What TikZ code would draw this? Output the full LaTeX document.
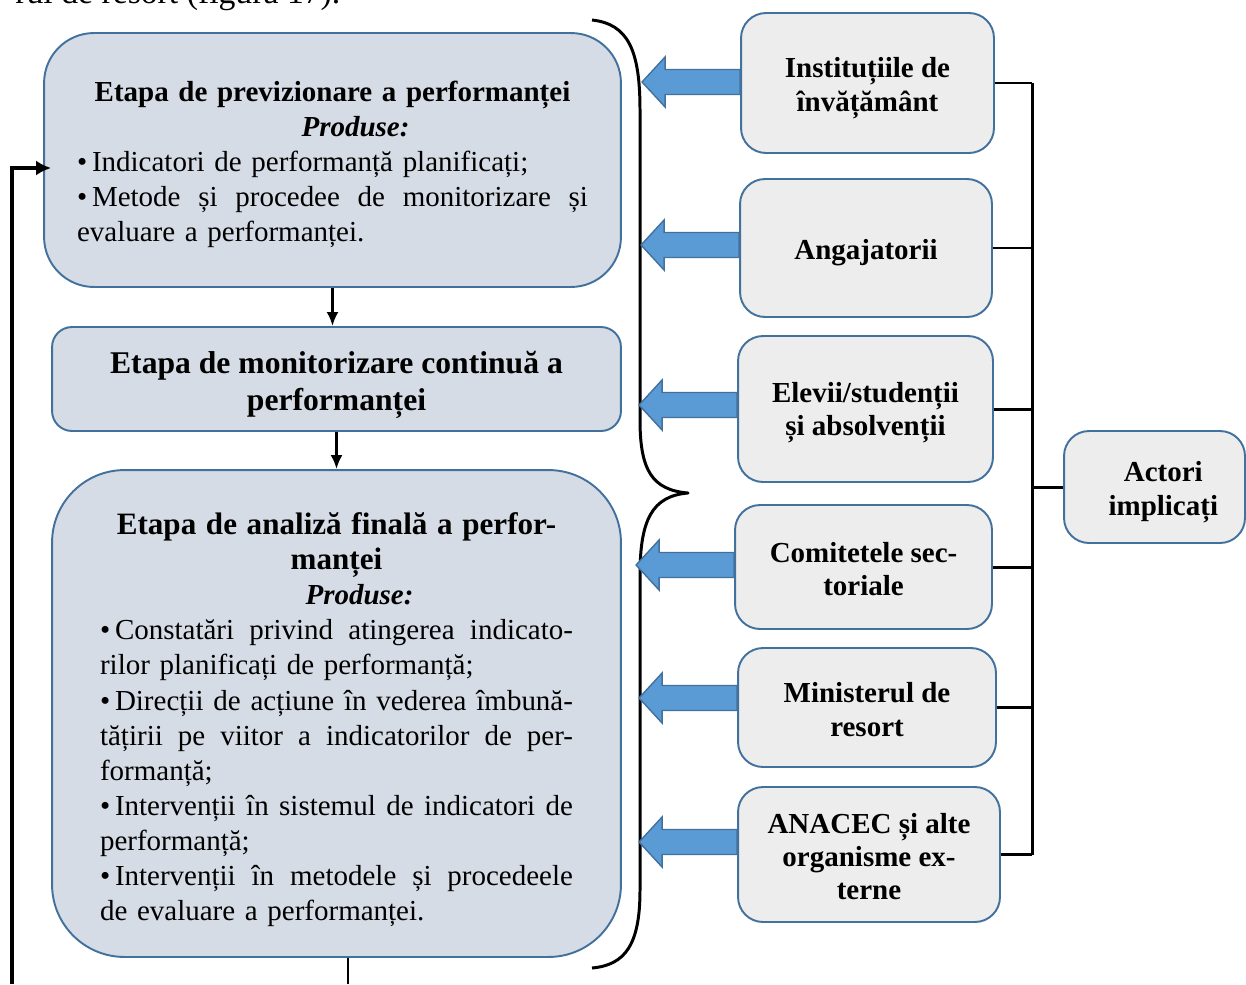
\documentclass[tikz,border=0pt]{standalone}
\usepackage{fontspec}
\setmainfont{Liberation Serif}
\usepackage{tikz}
\usetikzlibrary{calc, arrows.meta}
\definecolor{etapafill}{HTML}{D6DCE5}
\definecolor{boxline}{HTML}{41719C}
\definecolor{actorfill}{HTML}{EDEDED}
\definecolor{arrfill}{HTML}{5B9BD5}
\newcommand{\jline}[2][10.22cm]{\makebox[#1][s]{\spaceskip=0.25em plus 1em\relax #2}}
\newcommand{\lline}[2][10.22cm]{\makebox[#1][l]{#2}}
\newcommand{\up}[1]{\rule{0pt}{#1}}
\begin{document}
\begin{tikzpicture}[x=0.02cm, y=-0.02cm,
  etapa/.style={rectangle, draw=boxline, fill=etapafill, line width=1.1pt, inner sep=0pt, align=center, font=\fontsize{16.5}{20}\selectfont},
  actor/.style={rectangle, rounded corners=0.5cm, draw=boxline, fill=actorfill, line width=1.1pt, inner sep=0pt, align=center, font=\fontsize{16.5}{19}\selectfont\bfseries},
  blockarr/.style={draw=boxline, fill=arrfill, line width=0.8pt, line join=miter},
  flowline/.style={line width=1.5pt, -{Latex[length=0.28cm, width=0.24cm]}},
  linkline/.style={line width=1.7pt}]
\useasboundingbox (0,0) rectangle (1246,984);
\node[anchor=base west, font=\fontsize{19.2}{23}\selectfont, inner sep=0pt] at (15,3) (txt) {rul de resort (figura 17).};
% etape
\node[etapa, rounded corners=1cm, minimum width=11.54cm, minimum height=5.08cm, text width=10.22cm] at (332.5, 160) (e1) {\up{16.5pt}\textbf{Etapa de previzionare a performanței}\\ \hspace*{0.92cm}\textbf{\textit{Produse:}}\\ \lline{•\,Indicatori de performanță planificați;}\\ \jline{•\,Metode și procedee de monitorizare și}\\ \lline{evaluare a performanței.}};
\node[etapa, rounded corners=0.4cm, minimum width=11.38cm, minimum height=2.08cm, font=\fontsize{18}{21}\selectfont\bfseries] at (336.5, 379) (e2) {\up{19.2pt}Etapa de monitorizare continuă a\\ performanței};
\node[etapa, rounded corners=1.45cm, minimum width=11.38cm, minimum height=9.74cm, text width=9.46cm] at (336.5, 713.5) (e3) {{\fontsize{17.7}{21}\selectfont\bfseries \up{19.6pt}Etapa de analiză finală a perfor-\\ manței}\\ \hspace*{0.92cm}\textbf{\textit{Produse:}}\\ \jline[9.46cm]{•\,Constatări privind atingerea indicato-}\\ \lline[9.46cm]{rilor planificați de performanță;}\\ \jline[9.46cm]{•\,Direcții de acțiune în vederea îmbună-}\\ \jline[9.46cm]{tățirii pe viitor a indicatorilor de per-}\\ \lline[9.46cm]{formanță;}\\ \jline[9.46cm]{•\,Intervenții în sistemul de indicatori de}\\ \lline[9.46cm]{performanță;}\\ \jline[9.46cm]{•\,Intervenții în metodele și procedeele}\\ \lline[9.46cm]{de evaluare a performanței.}};
\draw[flowline] (e1.south) -- (e1.south |- e2.north);
\draw[flowline] (e2.south) -- (e3.north);
\coordinate (out) at (348, 984);
\draw[line width=1.5pt] (e3.south -| out) -- (out);
\coordinate (fb) at (12, 984);
\draw[line width=1.8pt, -{Latex[length=0.3cm, width=0.3cm]}, shorten >=-0.16cm] (fb) |- ($(e1.west)+(0,8)$);
% acolada
\draw[line width=1.7pt, line join=round] (592,20) .. controls (628,24) and (640,50) .. (640,110) -- (640,420) .. controls (640,470) and (652,490) .. (688,493) .. controls (652,496) and (640,520) .. (640,575) -- (640,890) .. controls (640,945) and (625,965) .. (592,968);
% actori
\node[actor, minimum width=5.06cm, minimum height=2.8cm] at (867.5, 83) (a1) {\up{17.1pt}Instituțiile de\\ învățământ};
\node[actor, minimum width=5.04cm, minimum height=2.76cm] at (866, 248) (a2) {\up{17.1pt}Angajatorii};
\node[actor, minimum width=5.1cm, minimum height=2.92cm] at (865.5, 409) (a3) {\up{15.9pt}Elevii/studenții\\ și absolvenții};
\node[actor, minimum width=5.14cm, minimum height=2.48cm] at (863.5, 567) (a4) {\up{13.7pt}Comitetele sec-\\ toriale};
\node[actor, minimum width=5.16cm, minimum height=2.38cm] at (867, 707.5) (a5) {\up{13.7pt}Ministerul de\\ resort};
\node[actor, minimum width=5.24cm, minimum height=2.7cm] at (869, 854.5) (a6) {\up{13.7pt}ANACEC și alte\\ organisme ex-\\ terne};
\node[actor, minimum width=3.62cm, minimum height=2.24cm] at (1154.5, 487) (act) {\hspace*{10pt}\up{17.1pt}Actori\\ \hspace*{10pt}implicați};
% sageti bloc
\draw[blockarr] ($(a1.west)+(0,-13.5)$) -- ++(-75,0) -- ++(0,-12.5) -- ++(-23,25) -- ++(23,25) -- ++(0,-12.5) -- ++(75,0) -- cycle;
\draw[blockarr] ($(a2.west)+(0,-15.5)$) -- ++(-75,0) -- ++(0,-12.5) -- ++(-23,25) -- ++(23,25) -- ++(0,-12.5) -- ++(75,0) -- cycle;
\draw[blockarr] ($(a3.west)+(0,-16.5)$) -- ++(-75,0) -- ++(0,-12.5) -- ++(-23,25) -- ++(23,25) -- ++(0,-12.5) -- ++(75,0) -- cycle;
\draw[blockarr] ($(a4.west)+(0,-14.5)$) -- ++(-75,0) -- ++(0,-12.5) -- ++(-23,25) -- ++(23,25) -- ++(0,-12.5) -- ++(75,0) -- cycle;
\draw[blockarr] ($(a5.west)+(0,-22)$) -- ++(-75,0) -- ++(0,-12.5) -- ++(-23,25) -- ++(23,25) -- ++(0,-12.5) -- ++(75,0) -- cycle;
\draw[blockarr] ($(a6.west)+(0,-25)$) -- ++(-75,0) -- ++(0,-12.5) -- ++(-23,25) -- ++(23,25) -- ++(0,-12.5) -- ++(75,0) -- cycle;
% legaturi
\coordinate (sp) at (1032, 0);
\draw[linkline] (a1.east) -- (a1.east -| sp);
\draw[linkline] (a2.east) -- (a2.east -| sp);
\draw[linkline] (a3.east) -- (a3.east -| sp);
\draw[linkline] (a4.east) -- (a4.east -| sp);
\draw[linkline] (a5.east) -- (a5.east -| sp);
\draw[linkline] (a6.east) -- (a6.east -| sp);
\draw[linkline] (act.west) -- (act.west -| sp);
\draw[linkline] (a1.east -| sp) -- (a6.east -| sp);
\end{tikzpicture}
\end{document}
